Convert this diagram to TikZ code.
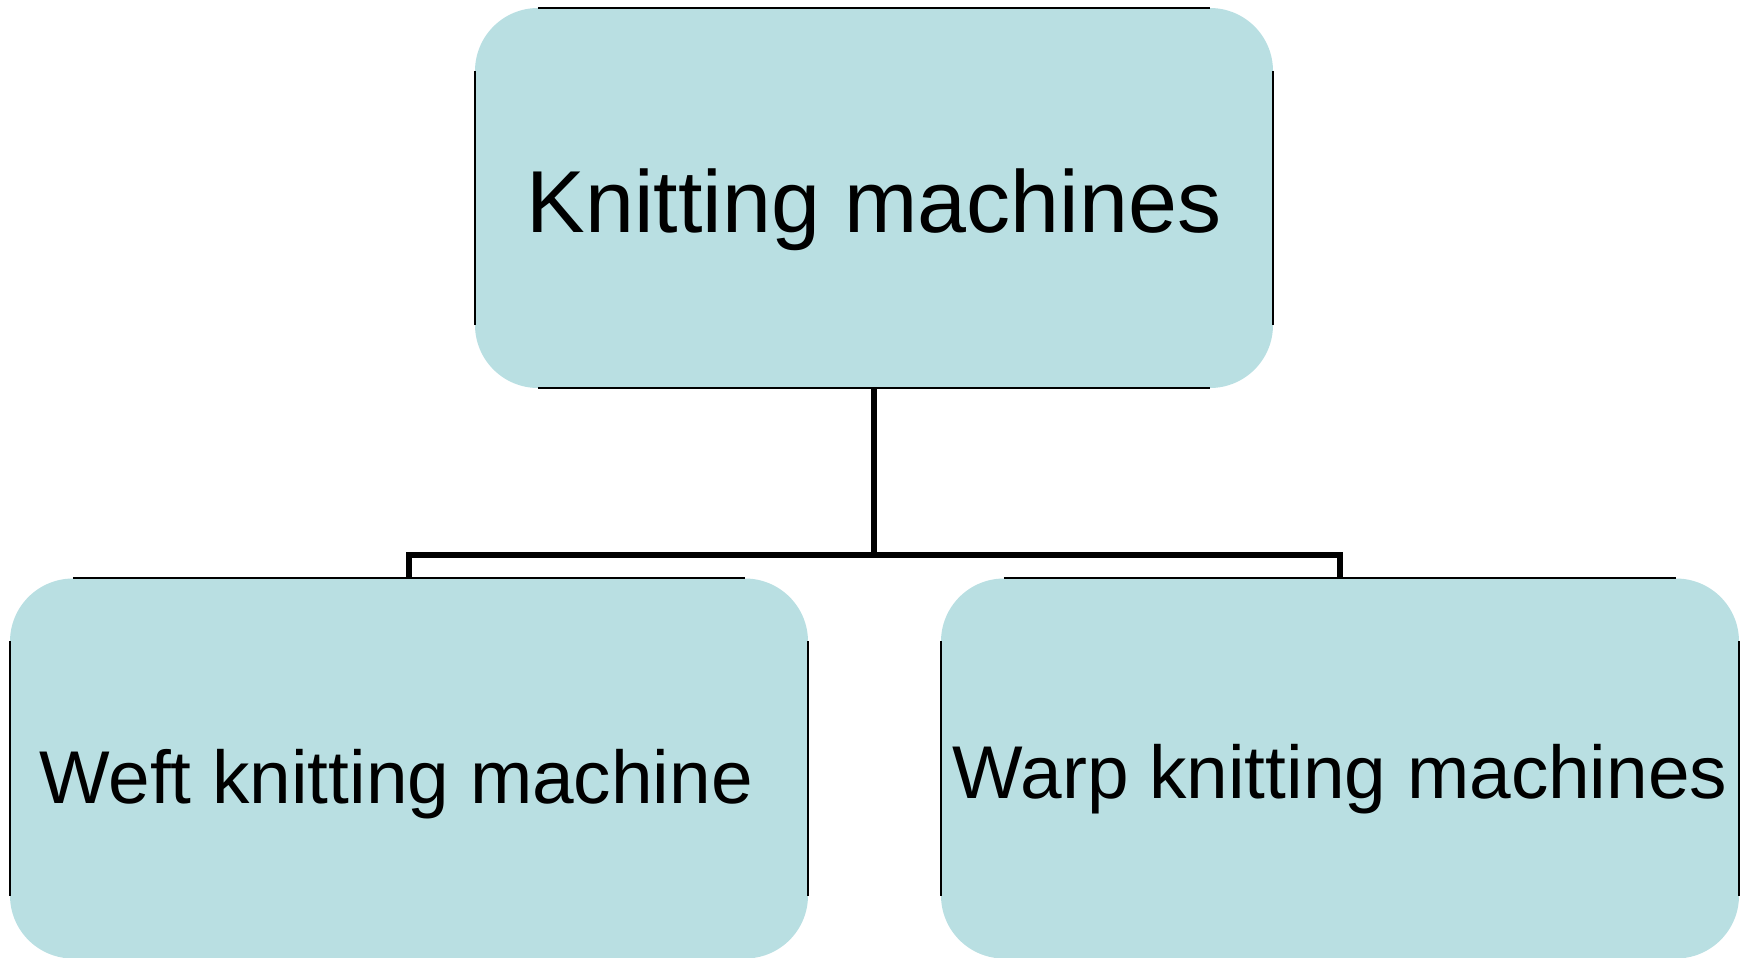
\documentclass[tikz,border=0pt]{standalone}
\usepackage{fontspec}
\setmainfont{Liberation Sans}
\usetikzlibrary{calc}
\definecolor{boxfill}{RGB}{185,223,226}
\tikzset{
  box/.style={rectangle, fill=boxfill, rounded corners=63pt, minimum width=798pt, minimum height=380pt, inner sep=0pt},
  edgeline/.style={draw=black, line width=2.2pt},
  conn/.style={draw=black, line width=5.2pt, line join=miter},
  bigtxt/.style={font=\fontsize{88pt}{88pt}\selectfont, inner sep=0pt, anchor=base},
  smalltxt/.style={font=\fontsize{74.8pt}{75pt}\selectfont, inner sep=0pt, anchor=base}
}
\begin{document}
\begin{tikzpicture}[x=1pt,y=-1pt]
\useasboundingbox (0,0) rectangle (1748,958);
\node[box] (top) at (874,198) {};
\node[box] (weft) at (409,768.5) {};
\node[box] (warp) at (1340,768.5) {};
\foreach \b in {top,weft,warp}{
  \draw[edgeline] ($(\b.north west)+(63,0)$) -- ($(\b.north east)+(-63,0)$);
  \draw[edgeline] ($(\b.south west)+(63,0)$) -- ($(\b.south east)+(-63,0)$);
  \draw[edgeline] ($(\b.north west)+(0,63)$) -- ($(\b.south west)+(0,-63)$);
  \draw[edgeline] ($(\b.north east)+(0,63)$) -- ($(\b.south east)+(0,-63)$);
}
\node[bigtxt] (ttop) at (874,232) {Knitting machines};
\node[smalltxt] (tweft) at (396,803) {Weft knitting machine};
\node[smalltxt] (twarp) at (1340,798) {Warp knitting machines};
\coordinate (j) at (874,555);
\draw[conn] (top.south) -- (j);
\draw[conn] (weft.north) |- (j) -| (warp.north);
\end{tikzpicture}
\end{document}
